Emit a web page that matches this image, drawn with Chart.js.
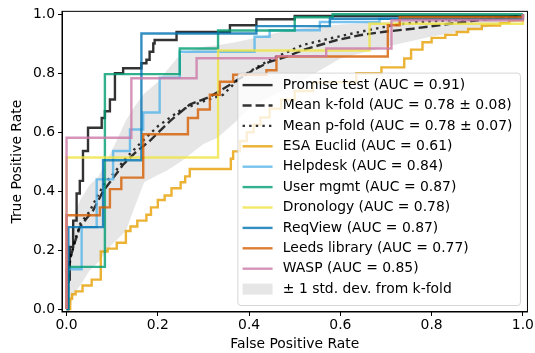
<!DOCTYPE html>
<html>
<head>
<meta charset="utf-8">
<script src="https://cdn.jsdelivr.net/npm/chart.js@4.4.1/dist/chart.umd.min.js"></script>
<style>
  html, body { margin: 0; padding: 0; background: #fff; }
  #wrap { width: 535px; height: 353px; }
</style>
</head>
<body>
<div id="wrap"><canvas id="rocChart" width="535" height="353"></canvas></div>
<script>
// axis ticks
const xTicks = [0, 0.2, 0.4, 0.6, 0.8, 1.0];
const yTicks = [0, 0.2, 0.4, 0.6, 0.8, 1.0];

const seriesLabels = [
  'Promise test (AUC = 0.91)',
  'Mean k-fold (AUC = 0.78 ± 0.08)',
  'Mean p-fold (AUC = 0.78 ± 0.07)',
  'ESA Euclid (AUC = 0.61)',
  'Helpdesk (AUC = 0.84)',
  'User mgmt (AUC = 0.87)',
  'Dronology (AUC = 0.78)',
  'ReqView (AUC = 0.87)',
  'Leeds library (AUC = 0.77)',
  'WASP (AUC = 0.85)',
  '± 1 std. dev. from k-fold'
];

// ROC curves, one point per step corner (fpr, tpr)
const promiseFpr = [0, 0.003, 0.007, 0.0145, 0.022, 0.029, 0.036, 0.047, 0.077, 0.084, 0.095, 0.106, 0.124, 0.164, 0.175, 0.182, 0.19, 0.193, 0.241, 0.358, 0.416, 0.5, 1.0, 1.0];
const promiseTpr = [0, 0, 0.1, 0.211, 0.3, 0.392, 0.435, 0.536, 0.615, 0.648, 0.671, 0.711, 0.8, 0.817, 0.834, 0.846, 0.873, 0.901, 0.913, 0.94, 0.963, 0.983, 0.994, 1.0];

const kfoldFpr = [0, 0.003, 0.007, 0.016, 0.029, 0.045, 0.058, 0.08, 0.095, 0.124, 0.15, 0.182, 0.226, 0.27, 0.314, 0.358, 0.38, 0.41, 0.445, 0.482, 0.518, 0.591, 0.642, 0.693, 0.758, 0.85, 0.93, 1.0];
const kfoldTpr = [0, 0.08, 0.166, 0.216, 0.278, 0.31, 0.334, 0.4, 0.43, 0.49, 0.53, 0.57, 0.637, 0.694, 0.72, 0.761, 0.783, 0.811, 0.839, 0.856, 0.879, 0.912, 0.929, 0.94, 0.951, 0.97, 0.985, 0.995];

const pfoldFpr = [0, 0.003, 0.008, 0.018, 0.03, 0.05, 0.07, 0.085, 0.102, 0.131, 0.16, 0.2, 0.25, 0.3, 0.343, 0.372, 0.401, 0.445, 0.518, 0.577, 0.642, 0.715, 0.774, 0.88, 1.0];
const pfoldTpr = [0, 0.07, 0.17, 0.23, 0.29, 0.33, 0.39, 0.43, 0.458, 0.514, 0.56, 0.62, 0.675, 0.705, 0.727, 0.772, 0.806, 0.845, 0.896, 0.918, 0.94, 0.963, 0.974, 0.983, 0.99];

const esaFpr = [0, 0.008, 0.012, 0.02, 0.035, 0.055, 0.075, 0.09, 0.11, 0.13, 0.14, 0.155, 0.175, 0.185, 0.2, 0.215, 0.23, 0.25, 0.26, 0.27, 0.36, 0.365, 0.38, 0.395, 0.41, 0.425, 0.445, 0.47, 0.5, 0.54, 0.635, 0.69, 0.74, 0.755, 0.78, 0.8, 0.83, 0.855, 0.88, 0.91, 0.95, 0.97, 1.0, 1.0];
const esaTpr = [0, 0, 0.035, 0.05, 0.06, 0.08, 0.1, 0.195, 0.205, 0.225, 0.265, 0.28, 0.3, 0.32, 0.345, 0.37, 0.385, 0.41, 0.43, 0.45, 0.475, 0.51, 0.535, 0.57, 0.6, 0.625, 0.65, 0.68, 0.71, 0.74, 0.77, 0.8, 0.82, 0.85, 0.88, 0.905, 0.92, 0.93, 0.94, 0.95, 0.962, 0.97, 0.98, 1.0];

const helpdeskFpr = [0, 0.033, 0.066, 0.102, 0.139, 0.168, 0.204, 0.248, 0.412, 0.445, 0.555, 0.686, 1.0, 1.0];
const helpdeskTpr = [0, 0.135, 0.278, 0.44, 0.536, 0.609, 0.667, 0.785, 0.873, 0.924, 0.946, 0.974, 0.985, 1.0];

const userFpr = [0, 0.004, 0.084, 0.248, 0.332, 0.5, 0.583, 1.0];
const userTpr = [0, 0, 0.143, 0.797, 0.884, 0.945, 0.99, 1.0];

const dronologyFpr = [0, 0.332, 0.664, 1.0, 1.0];
const dronologyTpr = [0, 0.514, 0.877, 0.968, 1.0];

const reqviewFpr = [0, 0.004, 0.08, 0.164, 0.416, 0.577, 1.0, 1.0];
const reqviewTpr = [0, 0, 0.278, 0.505, 0.935, 0.96, 0.985, 1.0];

const leedsFpr = [0, 0.073, 0.095, 0.12, 0.168, 0.266, 0.288, 0.314, 0.336, 0.365, 0.438, 0.46, 0.704, 0.73, 1.0, 1.0];
const leedsTpr = [0, 0.318, 0.345, 0.407, 0.446, 0.593, 0.648, 0.677, 0.727, 0.771, 0.795, 0.81, 0.857, 0.963, 0.99, 1.0];

const waspFpr = [0, 0.142, 0.285, 0.46, 0.569, 0.712, 1.0, 1.0];
const waspTpr = [0, 0.581, 0.783, 0.851, 0.858, 0.884, 0.98, 1.0];

// k-fold mean +/- 1 std band
const bandFpr = [0, 0.005, 0.01, 0.02, 0.03, 0.05, 0.07, 0.1, 0.13, 0.15, 0.17, 0.2, 0.22, 0.25, 0.3, 0.33, 0.37, 0.4, 0.44, 0.5, 0.6, 0.7, 0.8, 0.9, 1.0];
const bandLower = [0, 0, 0.02, 0.06, 0.08, 0.13, 0.16, 0.22, 0.265, 0.35, 0.43, 0.455, 0.47, 0.5, 0.56, 0.58, 0.635, 0.68, 0.716, 0.76, 0.85, 0.89, 0.925, 0.95, 0.98];
const bandUpper = [0, 0.2, 0.27, 0.33, 0.37, 0.42, 0.45, 0.54, 0.64, 0.69, 0.73, 0.77, 0.81, 0.865, 0.89, 0.895, 0.905, 0.915, 0.93, 0.95, 0.965, 0.975, 0.985, 1.0, 1.0];

const FONT = 'DejaVu Sans';
const FONT_SIZE = 13.9;
const LW = 2.4;

function toPoints(xs, ys) {
  return xs.map((x, i) => ({ x: x, y: ys[i] }));
}

function stepLine(label, xs, ys, color, order) {
  return {
    label: label,
    data: toPoints(xs, ys),
    borderColor: color,
    borderWidth: LW,
    stepped: 'after',
    pointRadius: 0,
    fill: false,
    order: order
  };
}

function meanLine(label, xs, ys, dash, order) {
  return {
    label: label,
    data: toPoints(xs, ys),
    borderColor: 'rgba(0,0,0,0.8)',
    borderWidth: LW,
    borderDash: dash,
    pointRadius: 0,
    fill: false,
    order: order
  };
}

const datasets = [
  stepLine(seriesLabels[0], promiseFpr, promiseTpr, 'rgba(0,0,0,0.8)', 10),
  meanLine(seriesLabels[1], kfoldFpr, kfoldTpr, [9, 4], 9),
  meanLine(seriesLabels[2], pfoldFpr, pfoldTpr, [2.4, 4.2], 8),
  stepLine(seriesLabels[3], esaFpr, esaTpr, 'rgba(230,159,0,0.8)', 7),
  stepLine(seriesLabels[4], helpdeskFpr, helpdeskTpr, 'rgba(86,180,233,0.8)', 6),
  stepLine(seriesLabels[5], userFpr, userTpr, 'rgba(0,158,115,0.8)', 5),
  stepLine(seriesLabels[6], dronologyFpr, dronologyTpr, 'rgba(240,228,66,0.8)', 4),
  stepLine(seriesLabels[7], reqviewFpr, reqviewTpr, 'rgba(0,114,178,0.8)', 3),
  stepLine(seriesLabels[8], leedsFpr, leedsTpr, 'rgba(213,94,0,0.8)', 2),
  stepLine(seriesLabels[9], waspFpr, waspTpr, 'rgba(204,121,167,0.8)', 1),
  {
    label: 'band lower',
    data: toPoints(bandFpr, bandLower),
    borderWidth: 0,
    pointRadius: 0,
    fill: false,
    order: 20
  },
  {
    label: seriesLabels[10],
    data: toPoints(bandFpr, bandUpper),
    borderWidth: 0,
    pointRadius: 0,
    backgroundColor: 'rgba(128,128,128,0.2)',
    fill: '-1',
    order: 19
  }
];

// matplotlib style frame + legend, drawn on top
const frameAndLegend = {
  id: 'frameAndLegend',
  afterDraw(chart) {
    const ctx = chart.ctx;
    const area = chart.chartArea;
    ctx.save();
    ctx.strokeStyle = '#000';
    ctx.lineWidth = 1;
    ctx.strokeRect(area.left, area.top, area.right - area.left, area.bottom - area.top);

    const entries = chart.data.datasets.filter(ds => ds.label !== 'band lower');
    ctx.font = FONT_SIZE + 'px "' + FONT + '"';
    let maxW = 0;
    entries.forEach(ds => { maxW = Math.max(maxW, ctx.measureText(ds.label).width); });

    const rowH = 20.4;
    const handleLen = 30;
    const padL = 4.7, gap = 10.3, padR = 8;
    const boxW = padL + handleLen + gap + maxW + padR;
    const boxH = entries.length * rowH + 8;
    const boxR = area.right - 7;
    const boxB = area.bottom - 6.5;
    const boxX = boxR - boxW;
    const boxY = boxB - boxH;

    ctx.beginPath();
    ctx.roundRect(boxX, boxY, boxW, boxH, 3);
    ctx.fillStyle = 'rgba(255,255,255,0.8)';
    ctx.fill();
    ctx.strokeStyle = 'rgba(204,204,204,0.8)';
    ctx.lineWidth = 1;
    ctx.stroke();

    entries.forEach((ds, i) => {
      const cy = boxY + 12 + i * rowH;
      const hx = boxX + padL;
      if (ds.fill) {
        ctx.fillStyle = ds.backgroundColor;
        ctx.fillRect(hx, cy - 5.5, handleLen, 11);
      } else {
        ctx.beginPath();
        ctx.setLineDash(ds.borderDash || []);
        ctx.strokeStyle = ds.borderColor;
        ctx.lineWidth = ds.borderWidth;
        ctx.moveTo(hx, cy);
        ctx.lineTo(hx + handleLen, cy);
        ctx.stroke();
        ctx.setLineDash([]);
      }
      ctx.fillStyle = '#000';
      ctx.textBaseline = 'middle';
      ctx.textAlign = 'left';
      ctx.fillText(ds.label, hx + handleLen + gap, cy);
    });
    ctx.restore();
  }
};

function axisOptions(tickValues, titleText, isX) {
  return {
    type: 'linear',
    min: -0.01,
    max: 1.01,
    afterBuildTicks: scale => { scale.ticks = tickValues.map(v => ({ value: v })); },
    afterFit: scale => {
      if (isX) { scale.height = 41; } else { scale.width = 62; }
    },
    ticks: {
      color: '#000',
      padding: isX ? 1 : 3,
      font: { family: FONT, size: FONT_SIZE },
      callback: v => Number(v).toFixed(1),
      maxRotation: 0
    },
    grid: {
      display: true,
      drawOnChartArea: false,
      drawTicks: true,
      tickLength: 4,
      color: '#000'
    },
    border: { display: true, color: '#000', width: 1 },
    title: {
      display: true,
      text: titleText,
      color: '#000',
      font: { family: FONT, size: FONT_SIZE },
      padding: isX ? { top: 0, bottom: 0 } : { top: 9, bottom: 0 }
    }
  };
}

new Chart(document.getElementById('rocChart').getContext('2d'), {
  type: 'line',
  data: { datasets: datasets },
  options: {
    responsive: false,
    animation: false,
    layout: { padding: { top: 9, right: 7, left: 0, bottom: 0 } },
    plugins: {
      legend: { display: false },
      tooltip: { enabled: false }
    },
    scales: {
      x: axisOptions(xTicks, 'False Positive Rate', true),
      y: axisOptions(yTicks, 'True Positive Rate', false)
    }
  },
  plugins: [frameAndLegend]
});
</script>
</body>
</html>
